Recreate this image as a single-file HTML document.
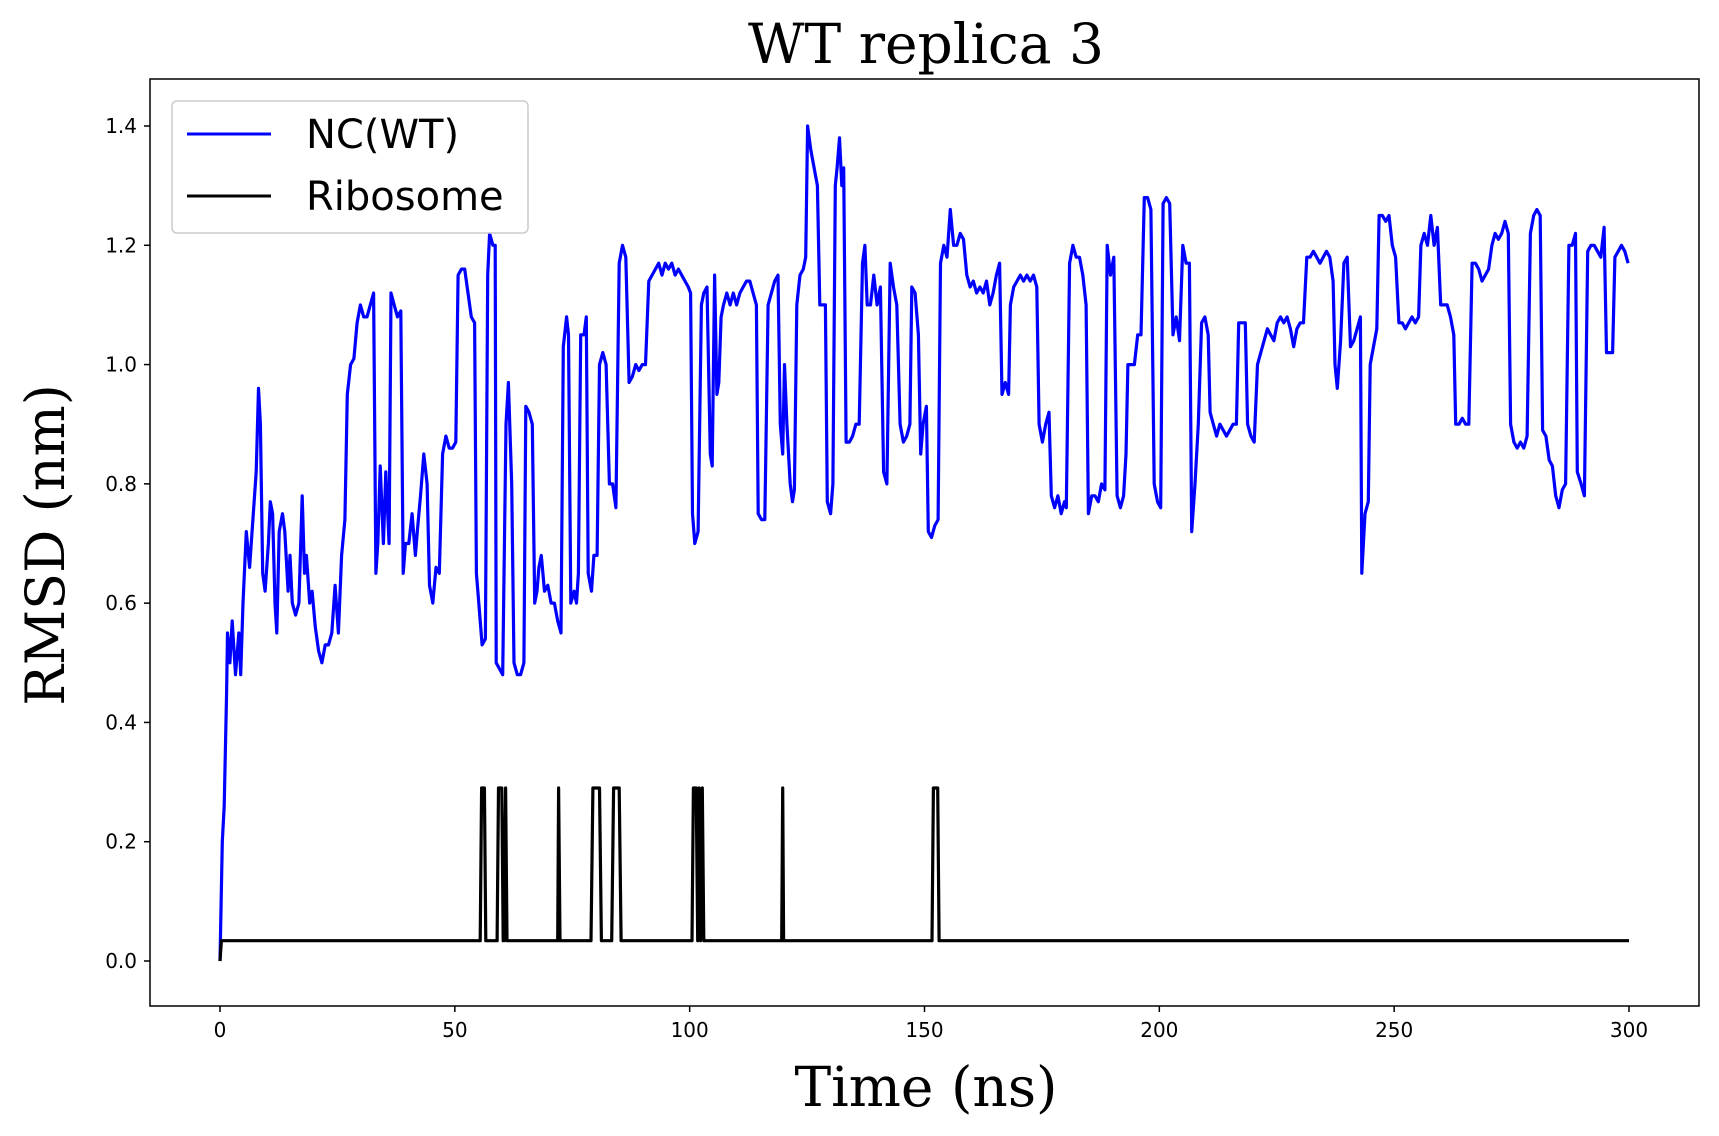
<!DOCTYPE html>
<html><head><meta charset="utf-8"><style>
html,body{margin:0;padding:0;background:#fff;}
svg{display:block;}
</style></head><body>
<svg id="chart" width="1719" height="1136" viewBox="0 0 1719 1136" xmlns="http://www.w3.org/2000/svg">
<rect x="0" y="0" width="1719" height="1136" fill="#fff"/>
<text x="926" y="63" text-anchor="middle" font-family="DejaVu Serif, serif" font-size="55" fill="#000">WT replica 3</text>
<text x="926" y="1106" text-anchor="middle" font-family="DejaVu Serif, serif" font-size="55" fill="#000">Time (ns)</text>
<text x="0" y="0" transform="translate(64,545) rotate(-90)" text-anchor="middle" font-family="DejaVu Serif, serif" font-size="54" fill="#000">RMSD (nm)</text>
<g id="plot"></g>
<rect x="150" y="79" width="1549" height="927" fill="none" stroke="#000" stroke-width="1.5"/>
<g id="xticks"></g>
<g id="yticks"></g>
<g>
<rect x="172" y="101" width="356" height="132" rx="5" fill="#fff" fill-opacity="0.85" stroke="#ccc" stroke-width="1.5"/>
<line x1="187" y1="134" x2="271" y2="134" stroke="#0000ff" stroke-width="3"/>
<text x="306" y="148" font-family="DejaVu Sans, sans-serif" font-size="40" fill="#000">NC(WT)</text>
<line x1="187" y1="196" x2="271" y2="196" stroke="#000" stroke-width="3"/>
<text x="306" y="210" font-family="DejaVu Sans, sans-serif" font-size="40" fill="#000">Ribosome</text>
</g>
</svg>
<script>
const xTickValues=[0,50,100,150,200,250,300];
const yTickValues=[0,0.2,0.4,0.6,0.8,1.0,1.2,1.4];
const yTickLabels=["0.0","0.2","0.4","0.6","0.8","1.0","1.2","1.4"];
const ncTime=[0,0.5,0.9,1.4,1.6,2.1,2.6,3.3,4.0,4.4,4.9,5.6,6.3,7.0,7.7,8.2,8.6,9.1,9.6,10.3,10.7,11.2,11.7,12.1,12.6,13.3,13.8,14.5,14.9,15.4,16.1,16.8,17.5,18.0,18.4,19.1,19.6,20.3,21.0,21.7,22.4,23.1,23.8,24.5,25.2,25.9,26.6,27.1,27.8,28.5,29.2,29.9,30.6,31.3,32.0,32.7,33.2,33.6,34.1,34.8,35.3,36.0,36.4,37.1,37.8,38.5,39.0,39.5,40.2,40.9,41.6,42.0,42.7,43.4,44.1,44.6,45.3,46.0,46.7,47.4,48.1,48.8,49.5,50.2,50.7,51.4,52.1,52.8,53.5,54.2,54.6,55.1,55.8,56.5,57.0,57.4,58.1,58.6,58.8,59.5,60.2,60.9,61.4,62.1,62.6,63.3,64.0,64.7,65.1,65.8,66.5,67.0,67.5,67.9,68.4,69.1,69.8,70.5,71.2,71.9,72.6,73.1,73.8,74.2,74.7,75.4,75.9,76.3,76.8,77.5,78.0,78.4,79.1,79.6,80.3,80.8,81.5,82.2,82.9,83.6,84.3,85.0,85.7,86.4,87.1,87.8,88.5,89.2,89.9,90.6,91.3,92.0,92.7,93.4,94.1,94.8,95.5,96.2,96.9,97.6,98.3,99.0,99.7,100.2,100.6,101.1,101.8,102.5,103.0,103.7,104.4,104.8,105.3,105.8,106.2,106.7,107.2,107.9,108.6,109.3,110.0,110.7,111.4,112.1,112.8,113.5,114.2,114.6,115.3,116.0,116.7,117.4,118.1,118.8,119.3,119.8,120.2,120.7,121.4,121.9,122.3,122.8,123.5,124.2,124.7,125.1,125.8,126.5,127.2,127.7,128.4,128.9,129.3,130.0,130.5,131.0,131.4,131.9,132.4,132.8,133.3,134.0,134.7,135.4,136.1,136.8,137.3,137.8,138.5,139.2,139.9,140.6,141.3,142.0,142.7,143.4,144.1,144.8,145.5,146.2,146.9,147.3,148.0,148.7,149.2,149.7,150.4,150.8,151.5,152.2,152.9,153.4,154.1,154.8,155.5,156.2,156.9,157.6,158.3,159.0,159.7,160.4,161.1,161.8,162.5,163.2,163.9,164.6,165.3,166.0,166.5,167.2,167.9,168.3,169.0,169.7,170.4,171.1,171.8,172.5,173.2,173.9,174.4,175.1,175.8,176.5,177.0,177.7,178.4,179.1,179.8,180.2,180.9,181.6,182.3,183.0,183.7,184.4,184.9,185.6,186.3,187.0,187.7,188.4,188.9,189.6,190.3,191.0,191.7,192.4,192.9,193.3,194.0,194.7,195.4,196.1,196.8,197.5,198.2,198.9,199.6,200.3,200.8,201.5,202.2,202.9,203.6,204.3,205.0,205.7,206.4,206.9,207.6,208.3,209.0,209.7,210.4,210.8,211.5,212.2,212.9,213.6,214.3,215.0,215.7,216.4,216.9,217.6,218.3,218.8,219.5,220.2,220.9,221.6,222.3,223.0,223.7,224.4,225.1,225.8,226.5,227.2,227.9,228.6,229.3,230.0,230.7,231.4,232.1,232.8,233.5,234.2,234.9,235.6,236.3,237.0,237.4,237.9,238.6,239.3,240.0,240.7,241.4,242.1,242.8,243.1,243.8,244.5,244.9,245.6,246.3,246.8,247.5,248.2,248.9,249.6,250.3,251.0,251.7,252.4,253.1,253.8,254.5,255.2,255.7,256.4,257.1,257.8,258.5,259.2,259.9,260.6,261.3,262.0,262.7,263.1,263.8,264.5,265.2,265.9,266.6,267.3,268.0,268.7,269.4,270.1,270.8,271.5,272.2,272.9,273.6,274.3,274.8,275.5,276.2,276.9,277.6,278.3,279.0,279.7,280.4,281.1,281.6,282.3,283.0,283.7,284.4,285.1,285.8,286.5,287.2,287.9,288.6,289.0,289.8,290.5,291.2,291.9,292.6,293.3,294.0,294.7,295.2,295.8,296.5,297.0,297.7,298.4,299.1,299.8];
const ncRmsd=[0.0,0.2,0.26,0.45,0.55,0.5,0.57,0.48,0.55,0.48,0.6,0.72,0.66,0.74,0.82,0.96,0.9,0.65,0.62,0.7,0.77,0.75,0.6,0.55,0.72,0.75,0.72,0.62,0.68,0.6,0.58,0.6,0.78,0.65,0.68,0.6,0.62,0.56,0.52,0.5,0.53,0.53,0.55,0.63,0.55,0.68,0.74,0.95,1.0,1.01,1.07,1.1,1.08,1.08,1.1,1.12,0.65,0.7,0.83,0.7,0.82,0.7,1.12,1.1,1.08,1.09,0.65,0.7,0.7,0.75,0.68,0.72,0.78,0.85,0.8,0.63,0.6,0.66,0.65,0.85,0.88,0.86,0.86,0.87,1.15,1.16,1.16,1.12,1.08,1.07,0.65,0.6,0.53,0.54,1.15,1.22,1.2,1.2,0.5,0.49,0.48,0.9,0.97,0.8,0.5,0.48,0.48,0.5,0.93,0.92,0.9,0.6,0.62,0.66,0.68,0.62,0.63,0.6,0.6,0.57,0.55,1.03,1.08,1.05,0.6,0.62,0.6,0.65,1.05,1.05,1.08,0.65,0.62,0.68,0.68,1.0,1.02,1.0,0.8,0.8,0.76,1.17,1.2,1.18,0.97,0.98,1.0,0.99,1.0,1.0,1.14,1.15,1.16,1.17,1.15,1.17,1.16,1.17,1.15,1.16,1.15,1.14,1.13,1.12,0.75,0.7,0.72,1.1,1.12,1.13,0.85,0.83,1.15,0.95,0.97,1.08,1.1,1.12,1.1,1.12,1.1,1.12,1.13,1.14,1.14,1.12,1.1,0.75,0.74,0.74,1.1,1.12,1.14,1.15,0.9,0.85,1.0,0.9,0.8,0.77,0.79,1.1,1.15,1.16,1.18,1.4,1.36,1.33,1.3,1.1,1.1,1.1,0.77,0.75,0.8,1.3,1.33,1.38,1.3,1.33,0.87,0.87,0.88,0.9,0.9,1.17,1.2,1.1,1.1,1.15,1.1,1.13,0.82,0.8,1.17,1.13,1.1,0.9,0.87,0.88,0.9,1.13,1.12,1.05,0.85,0.9,0.93,0.72,0.71,0.73,0.74,1.17,1.2,1.18,1.26,1.2,1.2,1.22,1.21,1.15,1.13,1.14,1.12,1.13,1.12,1.14,1.1,1.12,1.15,1.17,0.95,0.97,0.95,1.1,1.13,1.14,1.15,1.14,1.15,1.14,1.15,1.13,0.9,0.87,0.9,0.92,0.78,0.76,0.78,0.75,0.77,0.76,1.17,1.2,1.18,1.18,1.15,1.1,0.75,0.78,0.78,0.77,0.8,0.79,1.2,1.15,1.18,0.78,0.76,0.78,0.85,1.0,1.0,1.0,1.05,1.05,1.28,1.28,1.26,0.8,0.77,0.76,1.27,1.28,1.27,1.05,1.08,1.04,1.2,1.17,1.17,0.72,0.8,0.9,1.07,1.08,1.05,0.92,0.9,0.88,0.9,0.89,0.88,0.89,0.9,0.9,1.07,1.07,1.07,0.9,0.88,0.87,1.0,1.02,1.04,1.06,1.05,1.04,1.07,1.08,1.07,1.08,1.06,1.03,1.06,1.07,1.07,1.18,1.18,1.19,1.18,1.17,1.18,1.19,1.18,1.14,1.0,0.96,1.04,1.17,1.18,1.03,1.04,1.06,1.08,0.65,0.75,0.77,1.0,1.03,1.06,1.25,1.25,1.24,1.25,1.2,1.18,1.07,1.07,1.06,1.07,1.08,1.07,1.08,1.2,1.22,1.2,1.25,1.2,1.23,1.1,1.1,1.1,1.08,1.05,0.9,0.9,0.91,0.9,0.9,1.17,1.17,1.16,1.14,1.15,1.16,1.2,1.22,1.21,1.22,1.24,1.22,0.9,0.87,0.86,0.87,0.86,0.88,1.22,1.25,1.26,1.25,0.89,0.88,0.84,0.83,0.78,0.76,0.79,0.8,1.2,1.2,1.22,0.82,0.8,0.78,1.19,1.2,1.2,1.19,1.18,1.23,1.02,1.02,1.02,1.18,1.19,1.2,1.19,1.17];
const ribTime=[0,0.3,55.4,55.7,56.3,56.6,59.0,59.3,60.0,60.3,60.5,60.8,61.1,71.9,72.1,72.4,79.0,79.4,80.8,81.2,83.4,83.8,85.0,85.4,100.5,100.8,101.4,101.7,102.0,102.3,102.7,103.0,119.6,119.8,120.0,151.6,151.9,152.8,153.1,300];
const ribRmsd=[0,0.034,0.034,0.29,0.29,0.034,0.034,0.29,0.29,0.034,0.034,0.29,0.034,0.034,0.29,0.034,0.034,0.29,0.29,0.034,0.034,0.29,0.29,0.034,0.034,0.29,0.29,0.034,0.29,0.034,0.29,0.034,0.034,0.29,0.034,0.034,0.29,0.29,0.034,0.034];

const NS='http://www.w3.org/2000/svg';
function xScale(t){return 220+t*(1629-220)/300;}
function yScale(v){return 961-v*(961-126)/1.4;}
const plot=document.getElementById('plot');
function addPath(tArr,vArr,color,name){
  let d='';
  for(let i=0;i<tArr.length;i++){d+=(i?'L':'M')+xScale(tArr[i]).toFixed(1)+','+yScale(vArr[i]).toFixed(1);}
  const p=document.createElementNS(NS,'path');
  p.setAttribute('d',d);p.setAttribute('fill','none');p.setAttribute('stroke',color);
  p.setAttribute('stroke-width','3.2');p.setAttribute('stroke-linejoin','round');
  
  
  plot.appendChild(p);
}
addPath(ncTime,ncRmsd,'#0000ff','nc-wt-line');
addPath(ribTime,ribRmsd,'#000000','ribosome-line');

const xg=document.getElementById('xticks');
xTickValues.forEach(v=>{
  const x=xScale(v);
  const l=document.createElementNS(NS,'line');
  l.setAttribute('x1',x);l.setAttribute('x2',x);l.setAttribute('y1',1006);l.setAttribute('y2',1012);
  l.setAttribute('stroke','#000');l.setAttribute('stroke-width','1.5');
  
  
  xg.appendChild(l);
  const t=document.createElementNS(NS,'text');
  t.setAttribute('x',x);t.setAttribute('y',1037);t.setAttribute('text-anchor','middle');
  t.setAttribute('font-family','DejaVu Sans, sans-serif');t.setAttribute('font-size','20');
  t.textContent=String(v);
  
  
  xg.appendChild(t);
});
const yg=document.getElementById('yticks');
yTickValues.forEach((v,i)=>{
  const y=yScale(v);
  const l=document.createElementNS(NS,'line');
  l.setAttribute('x1',144);l.setAttribute('x2',150);l.setAttribute('y1',y);l.setAttribute('y2',y);
  l.setAttribute('stroke','#000');l.setAttribute('stroke-width','1.5');
  
  
  yg.appendChild(l);
  const t=document.createElementNS(NS,'text');
  t.setAttribute('x',137);t.setAttribute('y',y+7);t.setAttribute('text-anchor','end');
  t.setAttribute('font-family','DejaVu Sans, sans-serif');t.setAttribute('font-size','20');
  t.textContent=yTickLabels[i];
  
  
  yg.appendChild(t);
});
</script>
</body></html>
